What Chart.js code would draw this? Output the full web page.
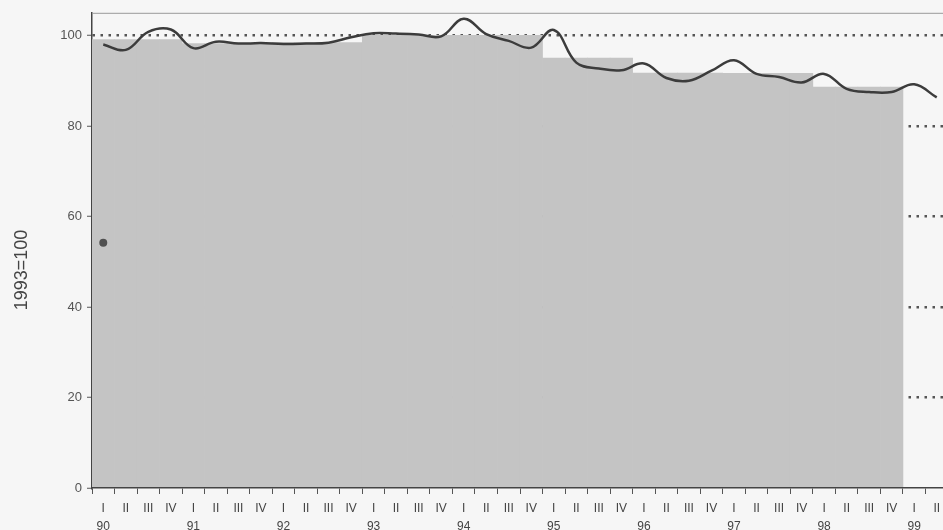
<!DOCTYPE html>
<html>
<head>
<meta charset="utf-8">
<script src="https://cdn.jsdelivr.net/npm/chart.js@4"></script>
<style>
  html, body { margin: 0; padding: 0; background: #f6f6f6; overflow: hidden; }
</style>
</head>
<body>
<canvas id="chart" width="952" height="530"></canvas>
<script>
// quarterly index, 1990 I .. 1999 II
const years = ['90', '91', '92', '93', '94', '95', '96', '97', '98', '99'];
const quarterNames = ['I', 'II', 'III', 'IV'];
const quarterly = [
  98.0, 96.8, 100.8, 101.3,
  97.2, 98.6, 98.2, 98.3,
  98.1, 98.2, 98.4, 99.6,
  100.5, 100.4, 100.2, 99.8,
  103.7, 100.3, 98.8, 97.3,
  101.2, 94.0, 92.7, 92.3,
  93.8, 90.6, 90.0, 92.2,
  94.5, 91.5, 90.8, 89.6,
  91.5, 88.2, 87.5, 87.5,
  89.2, 86.3
];
// annual averages 1990..1998 (grey blocks)
const annual = [99.1, 98.2, 98.4, 100.0, 100.0, 95.0, 91.7, 91.6, 88.6];
// the lone dark spot at 90 I
const spot = [54.2];
const yTicks = [0, 20, 40, 60, 80, 100];

const FONT = '"Liberation Sans", Arial, sans-serif';

const labels = [];
const barData = [];
const spotData = [];
for (let i = 0; i < quarterly.length; i++) {
  const q = i % 4;
  const y = Math.floor(i / 4);
  labels.push([quarterNames[q], q === 0 ? years[y] : '']);
  barData.push(annual[y] !== undefined ? annual[y] : null);
  spotData.push(i < spot.length ? spot[i] : null);
}

const framePlugin = {
  id: 'frame',
  beforeDraw(chart) {
    const c = chart.ctx;
    c.save();
    c.fillStyle = '#f6f6f6';
    c.fillRect(0, 0, chart.width, chart.height);
    c.restore();
  },
  afterDraw(chart) {
    const c = chart.ctx;
    const a = chart.chartArea;
    c.save();
    c.strokeStyle = '#9a9a9a';
    c.lineWidth = 1;
    c.beginPath();
    c.moveTo(a.left, a.top + 0.5);
    c.lineTo(a.right, a.top + 0.5);
    c.stroke();
    // axis title
    c.translate(22, 270);
    c.rotate(-Math.PI / 2);
    c.fillStyle = '#444';
    c.font = '18px ' + FONT;
    c.textAlign = 'center';
    c.textBaseline = 'middle';
    c.fillText('1993=100', 0, 0);
    c.restore();
  }
};

new Chart(document.getElementById('chart'), {
  type: 'bar',
  data: {
    labels: labels,
    datasets: [
      {
        type: 'line',
        data: spotData,
        showLine: false,
        pointRadius: 4,
        pointBackgroundColor: '#505050',
        pointBorderWidth: 0,
        order: 0
      },
      {
        type: 'line',
        data: quarterly,
        borderColor: '#3c3c3c',
        borderWidth: 2.5,
        pointRadius: 0,
        tension: 0.4,
        order: 1
      },
      {
        type: 'bar',
        data: barData,
        backgroundColor: '#c4c4c4',
        borderWidth: 0,
        barPercentage: 1,
        categoryPercentage: 1,
        order: 2
      }
    ]
  },
  options: {
    responsive: false,
    animation: false,
    layout: { padding: { top: 12, right: 3, left: 0, bottom: 0 } },
    plugins: {
      legend: { display: false },
      tooltip: { enabled: false }
    },
    scales: {
      x: {
        offset: true,
        grid: {
          display: true,
          offset: true,
          drawOnChartArea: false,
          drawTicks: true,
          tickLength: 6,
          tickColor: '#555'
        },
        border: { display: true, color: '#444', width: 1.5 },
        ticks: {
          autoSkip: false,
          maxRotation: 0,
          minRotation: 0,
          padding: 6,
          color: '#444',
          font: { family: FONT, size: 12, lineHeight: 1.5 }
        },
        afterFit(s) { s.height = 42; }
      },
      y: {
        min: 0,
        max: 105,
        afterBuildTicks(s) { s.ticks = yTicks.map(v => ({ value: v })); },
        grid: {
          color: (ctx) => (ctx.tick && ctx.tick.value === 0) ? 'rgba(0,0,0,0)' : '#555',
          lineWidth: 2.5,
          drawTicks: true,
          tickLength: 5,
          tickColor: '#555',
          tickWidth: 1,
          tickBorderDash: [0, 0]
        },
        border: { display: true, color: '#444', width: 1.5, dash: [2.5, 5.5] },
        ticks: {
          padding: 5,
          color: '#555',
          font: { family: FONT, size: 13 }
        },
        afterFit(s) { s.width = 92; }
      }
    }
  },
  plugins: [framePlugin]
});
</script>
</body>
</html>
